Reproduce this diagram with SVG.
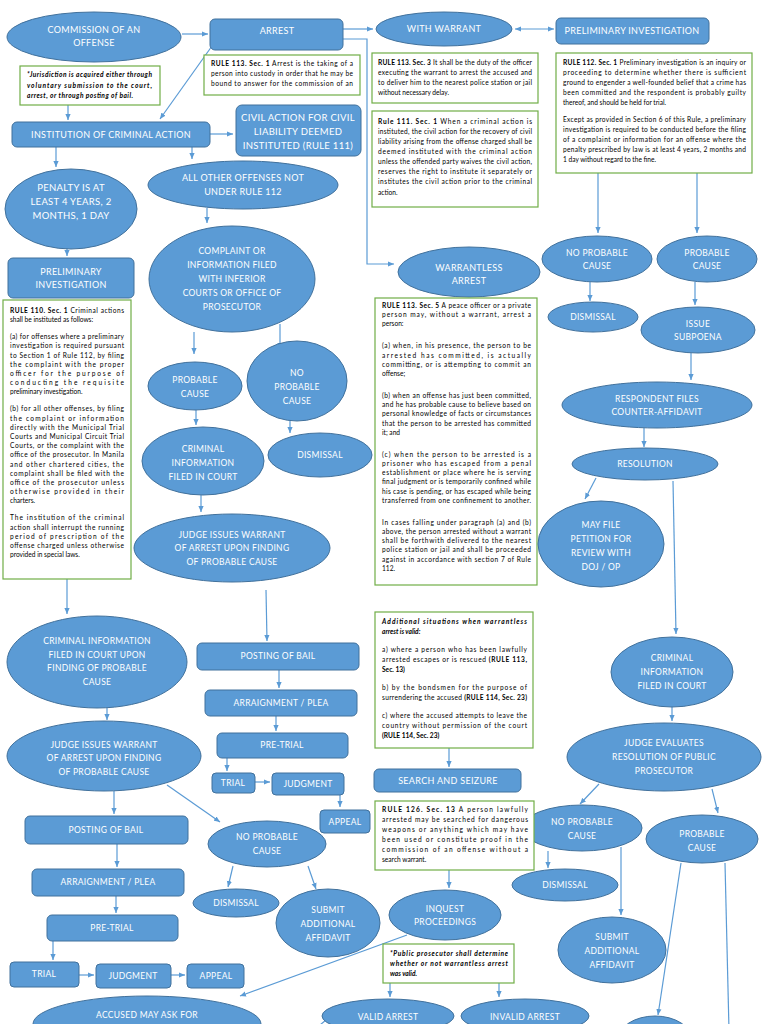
<svg xmlns="http://www.w3.org/2000/svg" width="768" height="1024" viewBox="0 0 768 1024">
<defs>
<marker id="ah" markerUnits="userSpaceOnUse" markerWidth="6" markerHeight="6" refX="6" refY="3" orient="auto-start-reverse"><path d="M0,0.4 L6,3 L0,5.6 z" fill="#5B9BD5"/></marker>
</defs>
<style>
.n{fill:#5B9BD5;stroke:#41719C;stroke-width:1}
.l{font-family:Lato,"Liberation Sans",sans-serif;font-size:9px;fill:#fff;text-anchor:middle;letter-spacing:0.3px}
.s{font-size:8.5px}
.b{fill:#fff;stroke:#70AD47;stroke-width:1.2}
.t{font-family:Lato,"Liberation Sans",sans-serif;font-size:6.6px;fill:#000}
.ib{font-style:italic;font-weight:bold}
.k{font-weight:bold}
.c{fill:none;stroke:#5B9BD5;stroke-width:1.2}
.c path{marker-end:url(#ah)}
</style>
<rect width="768" height="1024" fill="#fff"/>

<g id="connectors" class="c">
<path d="M182,34 H208"/>
<path d="M343,29 H373"/>
<path d="M515,29 H554" marker-start="url(#ah)"/>
<path d="M343,39 H367 V264 H394"/>
<path d="M212,46 L160,119"/>
<path d="M68,105 V120"/>
<path d="M210,134 H233"/>
<path d="M56,147 V167"/>
<path d="M192,147 V159"/>
<path d="M67,248 V256"/>
<path d="M207,208 V223"/>
<path d="M67,579 V614"/>
<path d="M194,332 V354"/>
<path d="M280,324 V349"/>
<path d="M196,410 V425"/>
<path d="M290,421 V433"/>
<path d="M201,495 V512"/>
<path d="M266,590 L267,641"/>
<path d="M279,670 V688"/>
<path d="M276,716 V731"/>
<path d="M227,758 V771"/>
<path d="M255,782 H270"/>
<path d="M340,795 V807"/>
<path d="M598,173 V233"/>
<path d="M697,173 V233"/>
<path d="M590,282 V301"/>
<path d="M695,282 V305"/>
<path d="M691,353 V380"/>
<path d="M644,428 V447"/>
<path d="M596,478 L585,499"/>
<path d="M673,481 L676,634"/>
<path d="M672,706 V721"/>
<path d="M599,784 L580,804"/>
<path d="M712,789 L718,813"/>
<path d="M548,851 V868"/>
<path d="M621,847 V915"/>
<path d="M681,863 L658,1015"/>
<path d="M725,863 L729,1030" style="marker-end:none"/>
<path d="M449,748 V767"/>
<path d="M449,870 V888"/>
<path d="M407,935 L240,996"/>
<path d="M390,983 V997"/>
<path d="M499,983 V997"/>
<path d="M107,708 V720"/>
<path d="M114,791 V814"/>
<path d="M167,785 L220,822"/>
<path d="M117,844 V867"/>
<path d="M116,896 V913"/>
<path d="M53,941 V960"/>
<path d="M79,975 H94"/>
<path d="M171,975 H185"/>
<path d="M233,866 L228,887"/>
<path d="M308,866 L316,889"/>
<path d="M326,1020 L314,1030" style="marker-end:none"/>
</g>

<g id="commission"><ellipse class="n" cx="94" cy="37" rx="87" ry="25"/><text class="l"><tspan x="94" y="33">COMMISSION OF AN</tspan><tspan x="94" y="46">OFFENSE</tspan></text></g>
<g id="arrest"><rect class="n" x="210" y="19" width="133" height="31" rx="5"/><text class="l" x="277" y="34">ARREST</text></g>
<g id="with-warrant"><ellipse class="n" cx="444" cy="29" rx="68" ry="17"/><text class="l" x="444" y="32">WITH WARRANT</text></g>
<g id="prelim-top"><rect class="n" x="556" y="18" width="153" height="26" rx="5"/><text class="l" x="632" y="34">PRELIMINARY INVESTIGATION</text></g>

<g id="rule113-1"><rect class="b" x="204" y="55" width="156" height="40"/>
<text class="t" x="211" y="66" textLength="142" lengthAdjust="spacing"><tspan class="k">RULE 113. Sec. 1</tspan> Arrest is the taking of a</text>
<text class="t" x="211" y="76" textLength="142" lengthAdjust="spacing">person into custody in order that he may be</text>
<text class="t" x="211" y="86" textLength="142" lengthAdjust="spacing">bound to answer for the commission of an</text></g>

<g id="jurisdiction"><rect class="b" x="20" y="66" width="140" height="39"/>
<text class="t ib" x="27" y="77" textLength="125" lengthAdjust="spacing">*Jurisdiction is acquired either through</text>
<text class="t ib" x="27" y="88" textLength="125" lengthAdjust="spacing">voluntary submission to the court,</text>
<text class="t ib" x="27" y="98" textLength="106" lengthAdjust="spacing">arrest, or through posting of bail.</text></g>

<g id="rule113-3"><rect class="b" x="372" y="53" width="166" height="50"/>
<text class="t" x="378" y="65" textLength="154" lengthAdjust="spacing"><tspan class="k">RULE 113. Sec. 3</tspan> It shall be the duty of the officer</text>
<text class="t" x="378" y="75" textLength="154" lengthAdjust="spacing">executing the warrant to arrest the accused and</text>
<text class="t" x="378" y="85" textLength="154" lengthAdjust="spacing">to deliver him to the nearest police station or jail</text>
<text class="t" x="378" y="95">without necessary delay.</text></g>

<g id="rule112-1"><rect class="b" x="556" y="53" width="196" height="120"/>
<text class="t" x="563" y="65" textLength="183" lengthAdjust="spacing"><tspan class="k">RULE 112. Sec. 1</tspan> Preliminary investigation is an inquiry or</text>
<text class="t" x="563" y="75" textLength="183" lengthAdjust="spacing">proceeding to determine whether there is sufficient</text>
<text class="t" x="563" y="85" textLength="183" lengthAdjust="spacing">ground to engender a well-founded belief that a crime has</text>
<text class="t" x="563" y="95" textLength="183" lengthAdjust="spacing">been committed and the respondent is probably guilty</text>
<text class="t" x="563" y="105">thereof, and should be held for trial.</text>
<text class="t" x="563" y="122" textLength="183" lengthAdjust="spacing">Except as provided in Section 6 of this Rule, a preliminary</text>
<text class="t" x="563" y="132" textLength="183" lengthAdjust="spacing">investigation is required to be conducted before the filing</text>
<text class="t" x="563" y="142" textLength="183" lengthAdjust="spacing">of a complaint or information for an offense where the</text>
<text class="t" x="563" y="152" textLength="183" lengthAdjust="spacing">penalty prescribed by law is at least 4 years, 2 months and</text>
<text class="t" x="563" y="162">1 day without regard to the fine.</text></g>

<g id="rule111-1"><rect class="b" x="372" y="111" width="166" height="96"/>
<text class="t" x="378" y="124" textLength="154" lengthAdjust="spacing"><tspan class="k">Rule 111. Sec. 1</tspan> When a criminal action is</text>
<text class="t" x="378" y="134" textLength="154" lengthAdjust="spacing">instituted, the civil action for the recovery of civil</text>
<text class="t" x="378" y="144" textLength="154" lengthAdjust="spacing">liability arising from the offense charged shall be</text>
<text class="t" x="378" y="154" textLength="154" lengthAdjust="spacing">deemed instituted with the criminal action</text>
<text class="t" x="378" y="164" textLength="154" lengthAdjust="spacing">unless the offended party waives the civil action,</text>
<text class="t" x="378" y="174" textLength="154" lengthAdjust="spacing">reserves the right to institute it separately or</text>
<text class="t" x="378" y="184" textLength="154" lengthAdjust="spacing">institutes the civil action prior to the criminal</text>
<text class="t" x="378" y="195">action.</text></g>

<g id="institution"><rect class="n" x="12" y="122" width="198" height="25" rx="5"/><text class="l" x="111" y="138">INSTITUTION OF CRIMINAL ACTION</text></g>
<g id="civil-action"><rect class="n" x="236" y="105" width="125" height="51" rx="6"/><text class="l" style="font-size:9.5px"><tspan x="298" y="121">CIVIL ACTION FOR CIVIL</tspan><tspan x="298" y="135">LIABILITY DEEMED</tspan><tspan x="298" y="149">INSTITUTED (RULE 111)</tspan></text></g>
<g id="penalty"><ellipse class="n" cx="71" cy="209" rx="66" ry="40"/><text class="l" style="font-size:9.5px"><tspan x="71" y="191">PENALTY IS AT</tspan><tspan x="71" y="205">LEAST 4 YEARS, 2</tspan><tspan x="71" y="219">MONTHS, 1 DAY</tspan></text></g>
<g id="all-other"><ellipse class="n" cx="243" cy="185" rx="95" ry="24"/><text class="l"><tspan x="243" y="181">ALL OTHER OFFENSES NOT</tspan><tspan x="243" y="195">UNDER RULE 112</tspan></text></g>
<g id="prelim-left"><rect class="n" x="8" y="258" width="126" height="40" rx="5"/><text class="l"><tspan x="71" y="275">PRELIMINARY</tspan><tspan x="71" y="288">INVESTIGATION</tspan></text></g>
<g id="complaint"><ellipse class="n" cx="232" cy="279" rx="83" ry="53"/><text class="l s"><tspan x="232" y="254">COMPLAINT OR</tspan><tspan x="232" y="268">INFORMATION FILED</tspan><tspan x="232" y="282">WITH INFERIOR</tspan><tspan x="232" y="296">COURTS OR OFFICE OF</tspan><tspan x="232" y="310">PROSECUTOR</tspan></text></g>

<g id="rule110-1"><rect class="b" x="3" y="300" width="128" height="279"/>
<text class="t" x="10" y="313" textLength="114" lengthAdjust="spacing"><tspan class="k">RULE 110. Sec. 1</tspan> Criminal actions</text>
<text class="t" x="10" y="322.2">shall be instituted as follows:</text>
<text class="t" x="10" y="339.2" textLength="114" lengthAdjust="spacing">(a) for offenses where a preliminary</text>
<text class="t" x="10" y="348.4" textLength="114" lengthAdjust="spacing">investigation is required pursuant</text>
<text class="t" x="10" y="357.6" textLength="114" lengthAdjust="spacing">to Section 1 of Rule 112, by filing</text>
<text class="t" x="10" y="366.8" textLength="114" lengthAdjust="spacing">the complaint with the proper</text>
<text class="t" x="10" y="376" textLength="114" lengthAdjust="spacing">officer for the purpose of</text>
<text class="t" x="10" y="385.2" textLength="114" lengthAdjust="spacing">conducting the requisite</text>
<text class="t" x="10" y="394.4">preliminary investigation.</text>
<text class="t" x="10" y="411.4" textLength="114" lengthAdjust="spacing">(b) for all other offenses, by filing</text>
<text class="t" x="10" y="420.6" textLength="114" lengthAdjust="spacing">the complaint or information</text>
<text class="t" x="10" y="429.8" textLength="114" lengthAdjust="spacing">directly with the Municipal Trial</text>
<text class="t" x="10" y="439" textLength="114" lengthAdjust="spacing">Courts and Municipal Circuit Trial</text>
<text class="t" x="10" y="448.2" textLength="114" lengthAdjust="spacing">Courts, or the complaint with the</text>
<text class="t" x="10" y="457.4" textLength="114" lengthAdjust="spacing">office of the prosecutor. In Manila</text>
<text class="t" x="10" y="466.6" textLength="114" lengthAdjust="spacing">and other chartered cities, the</text>
<text class="t" x="10" y="475.8" textLength="114" lengthAdjust="spacing">complaint shall be filed with the</text>
<text class="t" x="10" y="485" textLength="114" lengthAdjust="spacing">office of the prosecutor unless</text>
<text class="t" x="10" y="494.2" textLength="114" lengthAdjust="spacing">otherwise provided in their</text>
<text class="t" x="10" y="503.4">charters.</text>
<text class="t" x="10" y="520.4" textLength="114" lengthAdjust="spacing">The institution of the criminal</text>
<text class="t" x="10" y="529.6" textLength="114" lengthAdjust="spacing">action shall interrupt the running</text>
<text class="t" x="10" y="538.8" textLength="114" lengthAdjust="spacing">period of prescription of the</text>
<text class="t" x="10" y="548" textLength="114" lengthAdjust="spacing">offense charged unless otherwise</text>
<text class="t" x="10" y="557.2">provided in special laws.</text></g>

<g id="probable-mid"><ellipse class="n" cx="195" cy="386" rx="47" ry="24"/><text class="l s"><tspan x="195" y="383">PROBABLE</tspan><tspan x="195" y="397">CAUSE</tspan></text></g>
<g id="noprob-mid"><ellipse class="n" cx="297" cy="381" rx="50" ry="40"/><text class="l s"><tspan x="297" y="376">NO</tspan><tspan x="297" y="390">PROBABLE</tspan><tspan x="297" y="404">CAUSE</tspan></text></g>
<g id="crim-info-mid"><ellipse class="n" cx="203" cy="461" rx="61" ry="34"/><text class="l s"><tspan x="203" y="452">CRIMINAL</tspan><tspan x="203" y="466">INFORMATION</tspan><tspan x="203" y="480">FILED IN COURT</tspan></text></g>
<g id="dismissal-mid"><ellipse class="n" cx="320" cy="455" rx="52" ry="22"/><text class="l s" x="320" y="458">DISMISSAL</text></g>
<g id="judge-mid"><ellipse class="n" cx="232" cy="548" rx="98" ry="34"/><text class="l s"><tspan x="232" y="538">JUDGE ISSUES WARRANT</tspan><tspan x="232" y="551">OF ARREST UPON FINDING</tspan><tspan x="232" y="565">OF PROBABLE CAUSE</tspan></text></g>

<g id="warrantless"><ellipse class="n" cx="469" cy="272" rx="71" ry="25"/><text class="l"><tspan x="469" y="271">WARRANTLESS</tspan><tspan x="469" y="284">ARREST</tspan></text></g>

<g id="rule113-5"><rect class="b" x="375" y="298" width="162" height="287"/>
<text class="t" x="382" y="308" textLength="149" lengthAdjust="spacing"><tspan class="k">RULE 113. Sec. 5</tspan> A peace officer or a private</text>
<text class="t" x="382" y="317.2" textLength="149" lengthAdjust="spacing">person may, without a warrant, arrest a</text>
<text class="t" x="382" y="326.4">person:</text>
<text class="t" x="382" y="348.4" textLength="149" lengthAdjust="spacing">(a) when, in his presence, the person to be</text>
<text class="t" x="382" y="357.6" textLength="149" lengthAdjust="spacing">arrested has committed, is actually</text>
<text class="t" x="382" y="366.8" textLength="149" lengthAdjust="spacing">committing, or is attempting to commit an</text>
<text class="t" x="382" y="376">offense;</text>
<text class="t" x="382" y="398" textLength="149" lengthAdjust="spacing">(b) when an offense has just been committed,</text>
<text class="t" x="382" y="407.2" textLength="149" lengthAdjust="spacing">and he has probable cause to believe based on</text>
<text class="t" x="382" y="416.4" textLength="149" lengthAdjust="spacing">personal knowledge of facts or circumstances</text>
<text class="t" x="382" y="425.6" textLength="149" lengthAdjust="spacing">that the person to be arrested has committed</text>
<text class="t" x="382" y="434.8">it; and</text>
<text class="t" x="382" y="456.8" textLength="149" lengthAdjust="spacing">(c) when the person to be arrested is a</text>
<text class="t" x="382" y="466" textLength="149" lengthAdjust="spacing">prisoner who has escaped from a penal</text>
<text class="t" x="382" y="475.2" textLength="149" lengthAdjust="spacing">establishment or place where he is serving</text>
<text class="t" x="382" y="484.4" textLength="149" lengthAdjust="spacing">final judgment or is temporarily confined while</text>
<text class="t" x="382" y="493.6" textLength="149" lengthAdjust="spacing">his case is pending, or has escaped while being</text>
<text class="t" x="382" y="502.8" textLength="149" lengthAdjust="spacing">transferred from one confinement to another.</text>
<text class="t" x="382" y="524.8" textLength="149" lengthAdjust="spacing">In cases falling under paragraph (a) and (b)</text>
<text class="t" x="382" y="534" textLength="149" lengthAdjust="spacing">above, the person arrested without a warrant</text>
<text class="t" x="382" y="543.2" textLength="149" lengthAdjust="spacing">shall be forthwith delivered to the nearest</text>
<text class="t" x="382" y="552.4" textLength="149" lengthAdjust="spacing">police station or jail and shall be proceeded</text>
<text class="t" x="382" y="561.6" textLength="149" lengthAdjust="spacing">against in accordance with section 7 of Rule</text>
<text class="t" x="382" y="570.8">112.</text></g>

<g id="noprob-rt"><ellipse class="n" cx="597" cy="259" rx="55" ry="23"/><text class="l s"><tspan x="597" y="256">NO PROBABLE</tspan><tspan x="597" y="269">CAUSE</tspan></text></g>
<g id="prob-rt"><ellipse class="n" cx="707" cy="259" rx="50" ry="23"/><text class="l s"><tspan x="707" y="256">PROBABLE</tspan><tspan x="707" y="269">CAUSE</tspan></text></g>
<g id="dismissal-rt"><ellipse class="n" cx="593" cy="317" rx="45" ry="15"/><text class="l s" x="593" y="320">DISMISSAL</text></g>
<g id="subpoena"><ellipse class="n" cx="698" cy="330" rx="57" ry="23"/><text class="l s"><tspan x="698" y="327">ISSUE</tspan><tspan x="698" y="340">SUBPOENA</tspan></text></g>
<g id="respondent"><ellipse class="n" cx="657" cy="405" rx="95" ry="23"/><text class="l s"><tspan x="657" y="402">RESPONDENT FILES</tspan><tspan x="657" y="415">COUNTER-AFFIDAVIT</tspan></text></g>
<g id="resolution"><ellipse class="n" cx="645" cy="464" rx="73" ry="16"/><text class="l s" x="645" y="467">RESOLUTION</text></g>
<g id="petition"><ellipse class="n" cx="601" cy="544" rx="63" ry="43"/><text class="l s"><tspan x="601" y="528">MAY FILE</tspan><tspan x="601" y="542">PETITION FOR</tspan><tspan x="601" y="556">REVIEW WITH</tspan><tspan x="601" y="570">DOJ / OP</tspan></text></g>
<g id="crim-info-rt"><ellipse class="n" cx="672" cy="672" rx="61" ry="35"/><text class="l s"><tspan x="672" y="661">CRIMINAL</tspan><tspan x="672" y="675">INFORMATION</tspan><tspan x="672" y="689">FILED IN COURT</tspan></text></g>
<g id="judge-eval"><ellipse class="n" cx="664" cy="757" rx="97" ry="34"/><text class="l s"><tspan x="664" y="746">JUDGE EVALUATES</tspan><tspan x="664" y="760">RESOLUTION OF PUBLIC</tspan><tspan x="664" y="774">PROSECUTOR</tspan></text></g>
<g id="noprob-rb"><ellipse class="n" cx="582" cy="828" rx="60" ry="23"/><text class="l s"><tspan x="582" y="825">NO PROBABLE</tspan><tspan x="582" y="839">CAUSE</tspan></text></g>
<g id="prob-rb"><ellipse class="n" cx="702" cy="839" rx="56" ry="24"/><text class="l s"><tspan x="702" y="837">PROBABLE</tspan><tspan x="702" y="851">CAUSE</tspan></text></g>
<g id="dismissal-rb"><ellipse class="n" cx="565" cy="885" rx="53" ry="16"/><text class="l s" x="565" y="888">DISMISSAL</text></g>
<g id="submit-rb"><ellipse class="n" cx="612" cy="950" rx="54" ry="33"/><text class="l s"><tspan x="612" y="940">SUBMIT</tspan><tspan x="612" y="954">ADDITIONAL</tspan><tspan x="612" y="968">AFFIDAVIT</tspan></text></g>
<g id="partial-rb"><ellipse class="n" cx="655" cy="1040" rx="37" ry="24"/></g>

<g id="additional"><rect class="b" x="375" y="612" width="158" height="136"/>
<text class="t ib" x="382" y="624" textLength="145" lengthAdjust="spacing">Additional situations when warrantless</text>
<text class="t ib" x="382" y="634">arrest is valid:</text>
<text class="t" x="382" y="652" textLength="145" lengthAdjust="spacing">a) where a person who has been lawfully</text>
<text class="t" x="382" y="662" textLength="145" lengthAdjust="spacing">arrested escapes or is rescued <tspan class="k">(RULE 113,</tspan></text>
<text class="t k" x="382" y="672">Sec. 13)</text>
<text class="t" x="382" y="690" textLength="145" lengthAdjust="spacing">b) by the bondsmen for the purpose of</text>
<text class="t" x="382" y="700" textLength="145" lengthAdjust="spacing">surrendering the accused <tspan class="k">(RULE 114, Sec. 23)</tspan></text>
<text class="t" x="382" y="718" textLength="145" lengthAdjust="spacing">c) where the accused attempts to leave the</text>
<text class="t" x="382" y="728" textLength="145" lengthAdjust="spacing">country without permission of the court</text>
<text class="t k" x="382" y="738">(RULE 114, Sec. 23)</text></g>

<g id="search"><rect class="n" x="374" y="769" width="147" height="23" rx="5"/><text class="l" x="448" y="784">SEARCH AND SEIZURE</text></g>

<g id="rule126-13"><rect class="b" x="375" y="801" width="159" height="69"/>
<text class="t" x="382" y="812" textLength="146" lengthAdjust="spacing"><tspan class="k">RULE 126. Sec. 13</tspan> A person lawfully</text>
<text class="t" x="382" y="822" textLength="146" lengthAdjust="spacing">arrested may be searched for dangerous</text>
<text class="t" x="382" y="832" textLength="146" lengthAdjust="spacing">weapons or anything which may have</text>
<text class="t" x="382" y="842" textLength="146" lengthAdjust="spacing">been used or constitute proof in the</text>
<text class="t" x="382" y="852" textLength="146" lengthAdjust="spacing">commission of an offense without a</text>
<text class="t" x="382" y="862">search warrant.</text></g>

<g id="inquest"><ellipse class="n" cx="445" cy="915" rx="56" ry="25"/><text class="l s"><tspan x="445" y="912">INQUEST</tspan><tspan x="445" y="925">PROCEEDINGS</tspan></text></g>

<g id="prosecutor-note"><rect class="b" x="383" y="944" width="131" height="39"/>
<text class="t ib" x="390" y="956" textLength="118" lengthAdjust="spacing">*Public prosecutor shall determine</text>
<text class="t ib" x="390" y="966" textLength="118" lengthAdjust="spacing">whether or not warrantless arrest</text>
<text class="t ib" x="390" y="976">was valid.</text></g>

<g id="valid"><ellipse class="n" cx="388" cy="1016" rx="66" ry="17"/><text class="l s" x="388" y="1020">VALID ARREST</text></g>
<g id="invalid"><ellipse class="n" cx="525" cy="1016" rx="64" ry="17"/><text class="l s" x="525" y="1020">INVALID ARREST</text></g>
<g id="accused"><ellipse class="n" cx="147" cy="1024" rx="114" ry="28"/><text class="l s" x="147" y="1018">ACCUSED MAY ASK FOR</text></g>

<g id="crim-info-left"><ellipse class="n" cx="97" cy="662" rx="90" ry="46"/><text class="l s"><tspan x="97" y="644">CRIMINAL INFORMATION</tspan><tspan x="97" y="658">FILED IN COURT UPON</tspan><tspan x="97" y="671">FINDING OF PROBABLE</tspan><tspan x="97" y="685">CAUSE</tspan></text></g>
<g id="judge-left"><ellipse class="n" cx="104" cy="756" rx="97" ry="35"/><text class="l s"><tspan x="104" y="748">JUDGE ISSUES WARRANT</tspan><tspan x="104" y="761">OF ARREST UPON FINDING</tspan><tspan x="104" y="775">OF PROBABLE CAUSE</tspan></text></g>
<g id="bail-left"><rect class="n" x="25" y="816" width="163" height="28" rx="5"/><text class="l s" x="106" y="833">POSTING OF BAIL</text></g>
<g id="arraign-left"><rect class="n" x="32" y="869" width="152" height="27" rx="5"/><text class="l s" x="108" y="885">ARRAIGNMENT / PLEA</text></g>
<g id="pretrial-left"><rect class="n" x="47" y="915" width="131" height="26" rx="5"/><text class="l s" x="112" y="931">PRE-TRIAL</text></g>
<g id="trial-left"><rect class="n" x="10" y="962" width="69" height="25" rx="4"/><text class="l s" x="44" y="977">TRIAL</text></g>
<g id="judgment-left"><rect class="n" x="96" y="964" width="75" height="24" rx="4"/><text class="l s" x="133" y="979">JUDGMENT</text></g>
<g id="appeal-left"><rect class="n" x="187" y="964" width="57" height="24" rx="4"/><text class="l s" x="216" y="979">APPEAL</text></g>
<g id="noprob-left"><ellipse class="n" cx="267" cy="844" rx="59" ry="23"/><text class="l s"><tspan x="267" y="840">NO PROBABLE</tspan><tspan x="267" y="854">CAUSE</tspan></text></g>
<g id="dismissal-left"><ellipse class="n" cx="236" cy="903" rx="43" ry="14"/><text class="l s" x="236" y="906">DISMISSAL</text></g>
<g id="submit-left"><ellipse class="n" cx="328" cy="923" rx="52" ry="34"/><text class="l s"><tspan x="328" y="913">SUBMIT</tspan><tspan x="328" y="927">ADDITIONAL</tspan><tspan x="328" y="941">AFFIDAVIT</tspan></text></g>

<g id="bail-mid"><rect class="n" x="197" y="643" width="162" height="27" rx="5"/><text class="l s" x="278" y="659">POSTING OF BAIL</text></g>
<g id="arraign-mid"><rect class="n" x="205" y="690" width="152" height="26" rx="5"/><text class="l s" x="281" y="706">ARRAIGNMENT / PLEA</text></g>
<g id="pretrial-mid"><rect class="n" x="217" y="733" width="131" height="25" rx="5"/><text class="l s" x="282" y="748">PRE-TRIAL</text></g>
<g id="trial-mid"><rect class="n" x="212" y="773" width="43" height="20" rx="4"/><text class="l s" x="233" y="786">TRIAL</text></g>
<g id="judgment-mid"><rect class="n" x="272" y="773" width="72" height="22" rx="4"/><text class="l s" x="308" y="787">JUDGMENT</text></g>
<g id="appeal-mid"><rect class="n" x="320" y="810" width="50" height="23" rx="4"/><text class="l s" x="345" y="825">APPEAL</text></g>
</svg>
